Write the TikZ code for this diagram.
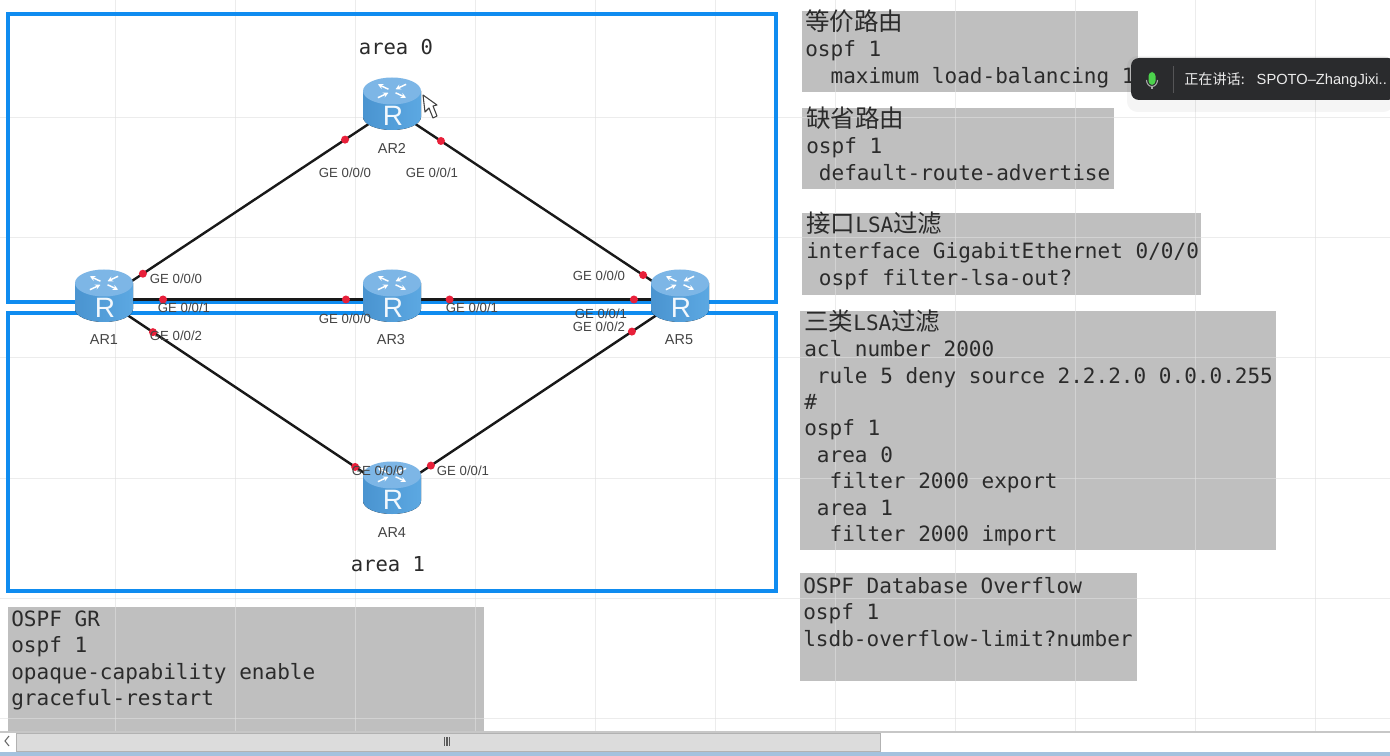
\documentclass[tikz,border=0pt]{standalone}
\usepackage{fontspec}
\setsansfont{Liberation Sans}
\setmonofont{DejaVu Sans Mono}
\newfontfamily\cjk{Noto Sans CJK SC}
\usetikzlibrary{arrows.meta}
\definecolor{ink}{HTML}{2B2B2B}
\definecolor{muted}{HTML}{444444}
\definecolor{gridline}{HTML}{E0E0E0}
\definecolor{codefill}{HTML}{BFBFBF}
\definecolor{framecol}{HTML}{0F8CF0}
\definecolor{portred}{HTML}{E8203A}
\definecolor{toastbg}{HTML}{2A2B2D}
\definecolor{barfill}{HTML}{DCDCDC}
\definecolor{stripcol}{HTML}{A4C2DE}
\definecolor{bodyl}{HTML}{4A94D0}
\definecolor{bodyr}{HTML}{5CA8E2}
\definecolor{capcol}{HTML}{7DB6E6}
\newcommand{\ind}[1]{\phantom{#1}}
\newcommand{\head}[1]{\smash{\cjk\fontsize{18.4}{19.8}\selectfont #1}}
\tikzset{
  gridrule/.style={draw=gridline,line width=0.7pt,opacity=0.6},
  areaframe/.style={draw=framecol,line width=3pt},
  codetext/.style={anchor=north west,inner sep=0pt,align=left,text=ink,font=\ttfamily\fontsize{15.78}{19.8}\selectfont},
  areatext/.style={inner sep=0pt,text=ink,font=\ttfamily\fontsize{15.4}{18}\selectfont},
  portlabel/.style={inner sep=0pt,text=muted,font=\sffamily\fontsize{9.9}{12}\selectfont},
  routername/.style={inner sep=0pt,text=muted,font=\sffamily\fontsize{10.8}{12}\selectfont},
  link/.style={draw=black!90,line width=1.8pt},
  portdot/.style={circle,fill=portred,inner sep=0pt,minimum size=6pt},
  routernode/.style={circle,inner sep=0pt,minimum size=40pt},
  router/.pic={
    \fill[left color=bodyl,right color=bodyr] (-29,-16) -- (-29,10) arc[start angle=180,end angle=0,x radius=29,y radius=13] -- (29,-16) -- cycle;
    \fill[capcol] (0,-16) ellipse[x radius=29,y radius=13.5];
    \foreach \a in {45,225} {
      \draw[white,line width=1.1pt,-{Stealth[length=4pt,width=4pt]}] ([shift={(0,-16)}]\a:5 and 2.5) -- ([shift={(0,-16)}]\a:20 and 9.5);
      \draw[white,line width=1.1pt,-{Stealth[length=4pt,width=4pt]}] ([shift={(0,-16)}]\a+90:20 and 9.5) -- ([shift={(0,-16)}]\a+90:5 and 2.5);
    }
    \node[inner sep=0pt,text=white!92!bodyr,font=\sffamily\fontsize{21}{21}\selectfont] at (1,9) {R};
  }
}
\begin{document}
\begin{tikzpicture}[x=0.75pt,y=-0.75pt]
  \useasboundingbox (0,0) rectangle (1390,756);
  \fill[white] (0,0) rectangle (1390,756);

  \fill[codefill] (802,11) rectangle (1138,92);
  \fill[codefill] (802,108) rectangle (1114,189);
  \fill[codefill] (802,213) rectangle (1201,295);
  \fill[codefill] (800,311) rectangle (1276,550);
  \fill[codefill] (800,573) rectangle (1137,681);
  \fill[codefill] (8,607) rectangle (484,732);

  \foreach \x in {115.6,235.5,355.4,475.3,595.2,715.1,835,955,1075,1195,1315}
    \draw[gridrule] (\x,0) -- (\x,732);
  \foreach \y in {117,237,357,478,598,718}
    \draw[gridrule] (0,\y) -- (1390,\y);

  \draw[areaframe] (8,14) rectangle (776,302);
  \draw[areaframe] (8,313) rectangle (776,591);

  \node[routernode] (ar1) at (104,299.5) {};
  \node[routernode] (ar2) at (392,108.5) {};
  \node[routernode] (ar3) at (392,299.5) {};
  \node[routernode] (ar4) at (392,491.5) {};
  \node[routernode] (ar5) at (680,299.5) {};

  \draw[link] (ar1.center) -- node[portdot,pos=0.135] (p10) {} node[portdot,pos=0.837] (p20) {} (ar2.center);
  \draw[link] (ar2.center) -- node[portdot,pos=0.17] (p21) {} node[portdot,pos=0.872] (p50) {} (ar5.center);
  \draw[link] (ar1.center) -- node[portdot,pos=0.205] (p11) {} node[portdot,pos=0.84] (p30) {} (ar3.center);
  \draw[link] (ar3.center) -- node[portdot,pos=0.20] (p31) {} node[portdot,pos=0.84] (p51) {} (ar5.center);
  \draw[link] (ar1.center) -- node[portdot,pos=0.17] (p12) {} node[portdot,pos=0.872] (p40) {} (ar4.center);
  \draw[link] (ar4.center) -- node[portdot,pos=0.135] (p41) {} node[portdot,pos=0.833] (p52) {} (ar5.center);

  \pic at (104,299) {router};
  \pic at (392,107) {router};
  \pic at (392,299) {router};
  \pic at (392,491) {router};
  \pic at (680,299) {router};

  \node[routername] (n1) at (104,340) {AR1};
  \node[routername] (n2) at (392,148) {AR2};
  \node[routername] (n3) at (391,340) {AR3};
  \node[routername] (n4) at (392,533) {AR4};
  \node[routername] (n5) at (679,340) {AR5};

  \node[portlabel] (l10) at (176,278.5) {GE 0/0/0};
  \node[portlabel] (l11) at (184,307.5) {GE 0/0/1};
  \node[portlabel] (l12) at (176,335.5) {GE 0/0/2};
  \node[portlabel] (l20) at (345,172.5) {GE 0/0/0};
  \node[portlabel] (l21) at (432,172.5) {GE 0/0/1};
  \node[portlabel] (l30) at (345,318.5) {GE 0/0/0};
  \node[portlabel] (l31) at (472,307.5) {GE 0/0/1};
  \node[portlabel] (l50) at (599,275.5) {GE 0/0/0};
  \node[portlabel] (l51) at (601,313.5) {GE 0/0/1};
  \node[portlabel] (l52) at (599,326.5) {GE 0/0/2};
  \node[portlabel] (l40) at (378,470.5) {GE 0/0/0};
  \node[portlabel] (l41) at (463,470.5) {GE 0/0/1};

  \node[areatext] (a0) at (396,47) {area 0};
  \node[areatext] (a1) at (388,564) {area 1};

  \node[codetext] (t1) at (805,11.5) {\head{等价路由}\strut\\ospf 1\\\ind{xx}maximum load-balancing 1};
  \node[codetext] (t2) at (806,108.5) {\head{缺省路由}\strut\\ospf 1\\\ind{x}default-route-advertise};
  \node[codetext] (t3) at (806,213.5) {\head{接口}LSA\head{过滤}\strut\\interface GigabitEthernet 0/0/0\\\ind{x}ospf filter-lsa-out?};
  \node[codetext] (t4) at (804,311.5) {\head{三类}LSA\head{过滤}\strut\\acl number 2000\\\ind{x}rule 5 deny source 2.2.2.0 0.0.0.255\\\#\\ospf 1\\\ind{x}area 0\\\ind{xx}filter 2000 export\\\ind{x}area 1\\\ind{xx}filter 2000 import};
  \node[codetext] (t5) at (803,574.5) {OSPF Database Overflow\strut\\ospf 1\\lsdb-overflow-limit?number};
  \node[codetext] (t6) at (11,607.5) {OSPF GR\strut\\ospf 1\\opaque-capability enable\\graceful-restart};

  \fill[white] (0,732) rectangle (1390,752);
  \draw[draw=black!22,line width=0.9pt] (0,732) -- (1390,732);
  \fill[barfill] (16,733) rectangle (880,751);
  \draw[black!30,line width=0.6pt] (16,733) rectangle (880,751);
  \draw[black!60,line width=0.8pt] (9,736) -- (5,741) -- (9,746);
  \foreach \x in {444.5,447,449.5}
    \draw[black!65,line width=0.8pt] (\x,737) -- (\x,746);
  \fill[stripcol] (0,752) rectangle (1390,756);

  \draw[black!75,fill=white,line width=0.8pt,line join=round] (423,95) -- (425,112) -- (429,108) -- (433,118) -- (437,116) -- (433,106) -- (437,105) -- cycle;

  \fill[black,opacity=0.04,rounded corners=8pt] (1127,56) rectangle (1394,112);
  \fill[toastbg,rounded corners=6pt] (1131,58) rectangle (1396,100);
  \draw[white!20!toastbg,line width=0.5pt] (1173,66) -- (1173,93);
  \fill[green!75!black!70!white,rounded corners=3pt] (1148.5,72) rectangle (1155.5,85);
  \draw[white!60!toastbg,line width=0.8pt] (1146.5,80) arc[start angle=180,end angle=0,x radius=5.5,y radius=6.5];
  \draw[white!60!toastbg,line width=0.8pt] (1152,86.5) -- (1152,89);
  \node[anchor=west,inner sep=0pt,text=white!92!black,font=\sffamily\fontsize{11}{12}\selectfont] (toast) at (1184,80) {{\cjk\fontsize{10.6}{12}\selectfont 正在讲话:}\hspace{9pt}SPOTO–ZhangJixi..};
\end{tikzpicture}
\end{document}
